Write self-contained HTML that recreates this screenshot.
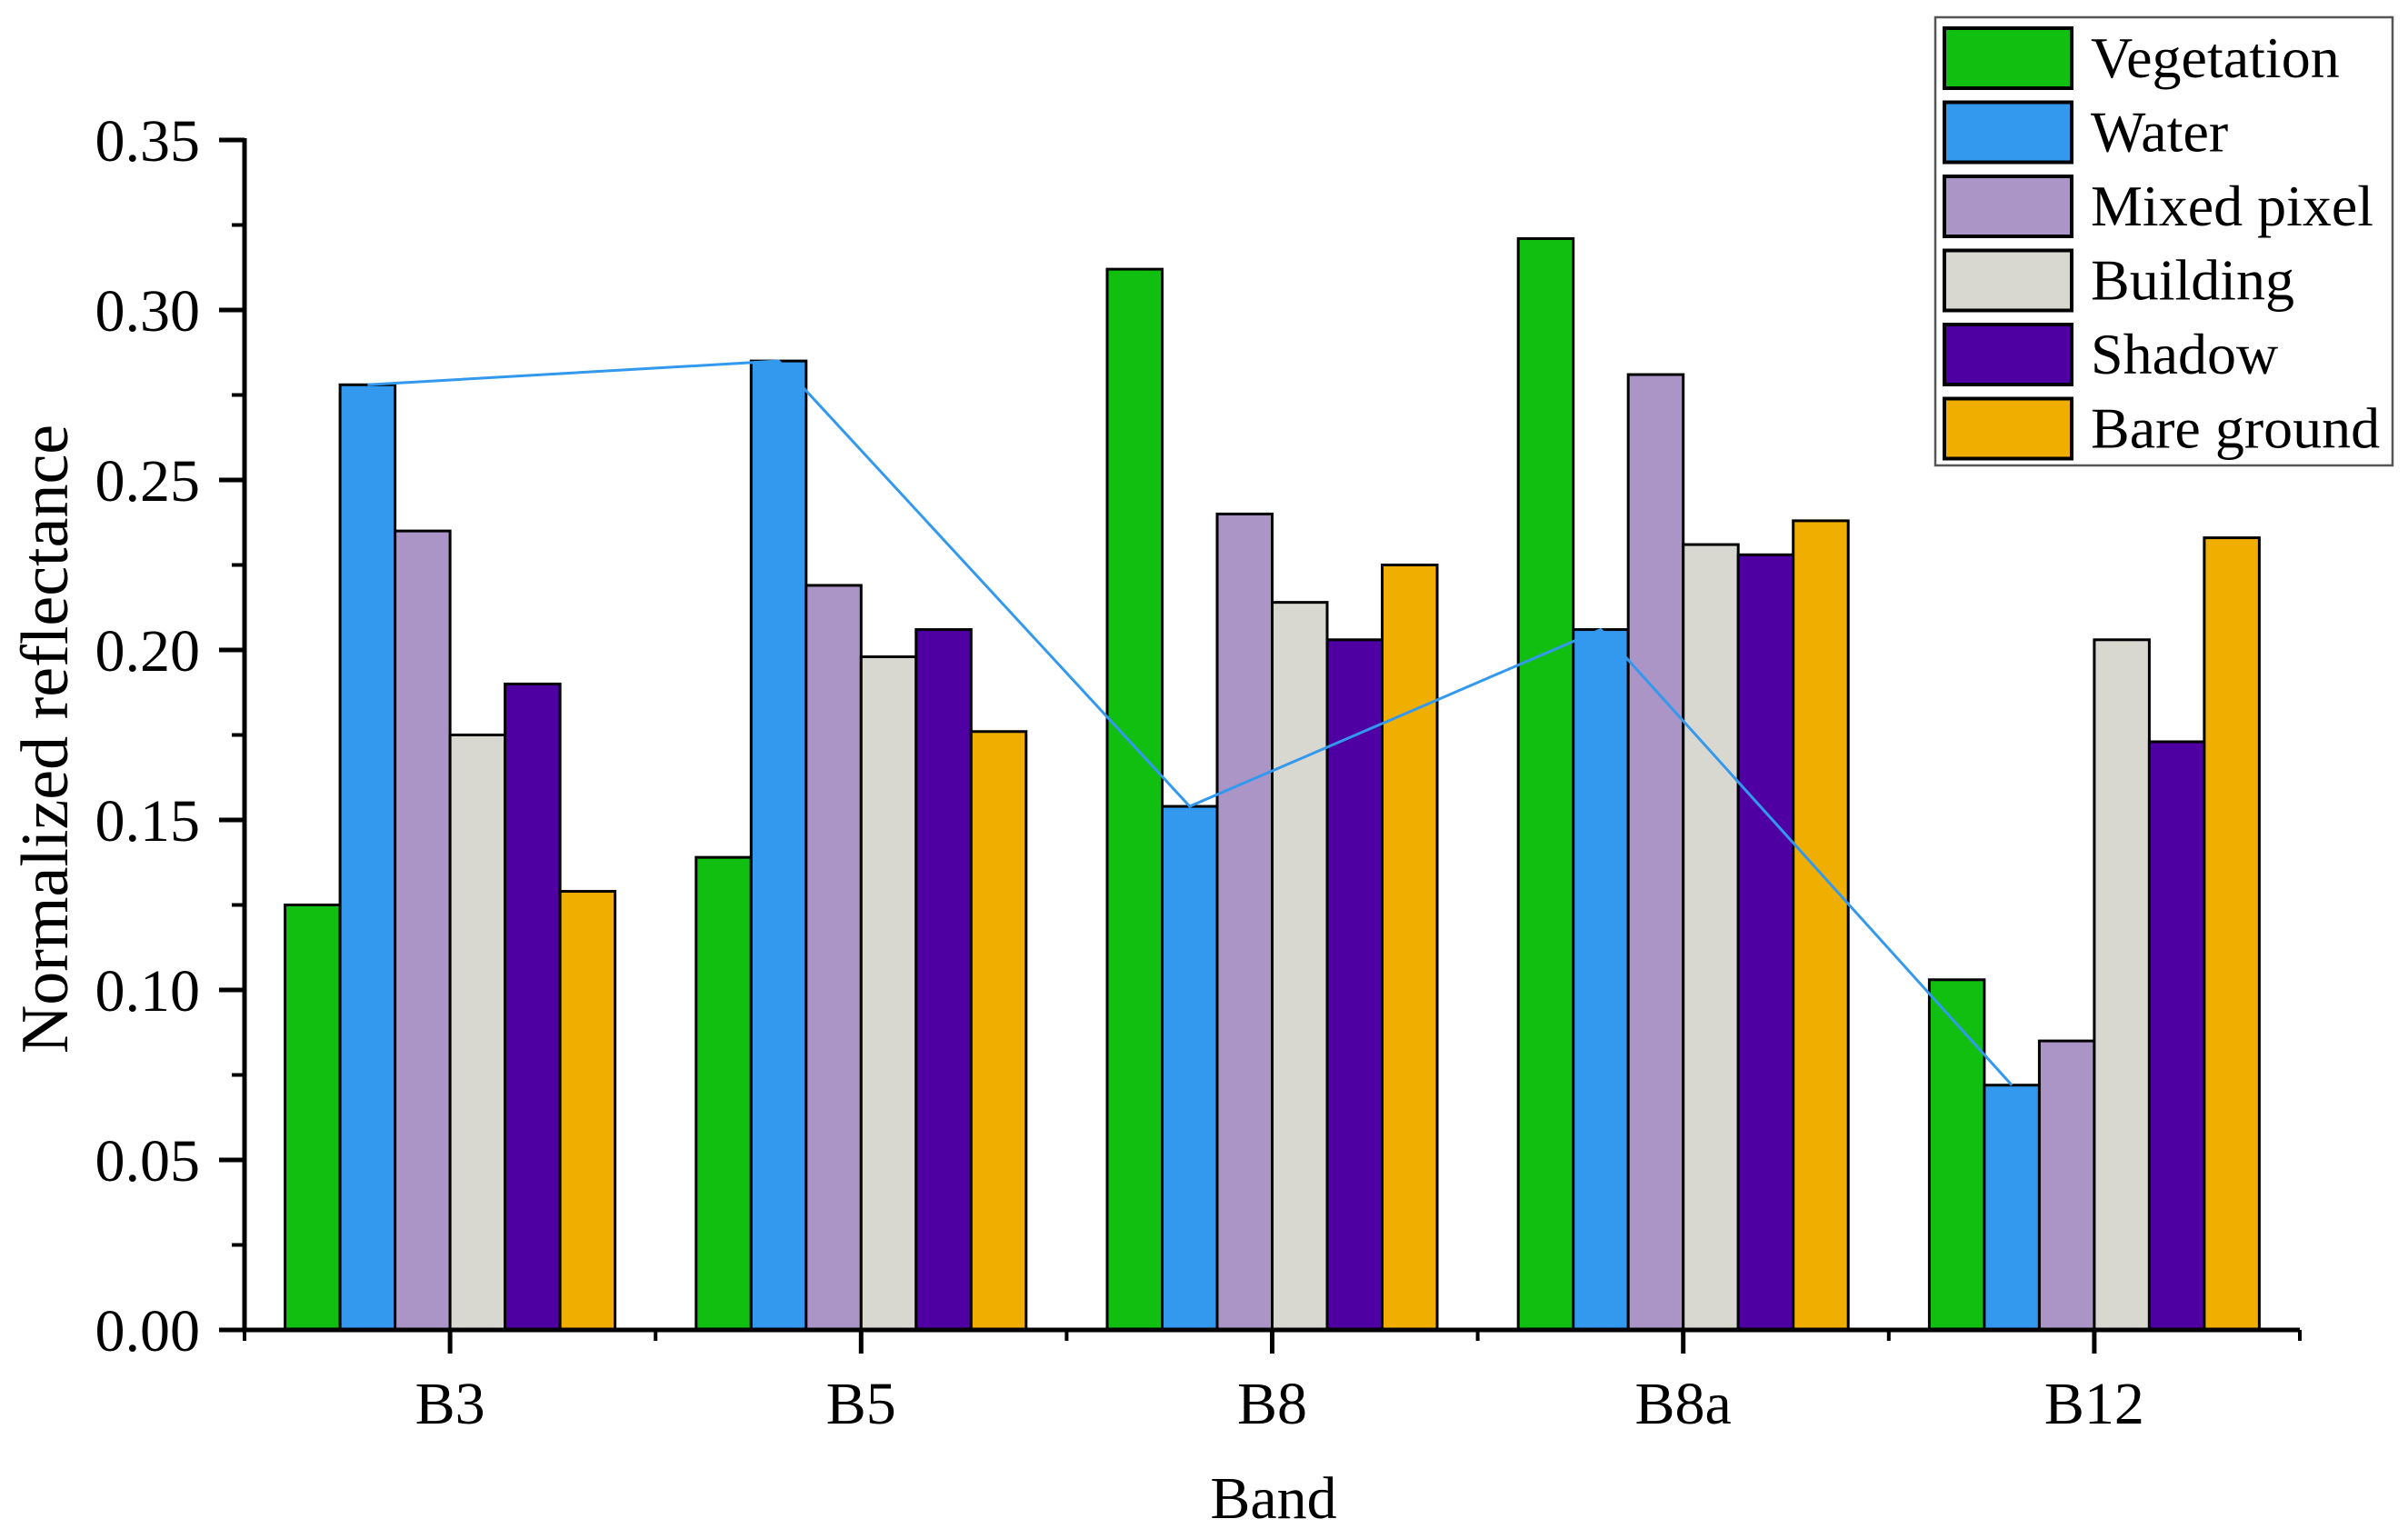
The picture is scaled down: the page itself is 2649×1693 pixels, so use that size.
<!DOCTYPE html>
<html><head><meta charset="utf-8"><style>
html,body{margin:0;padding:0;background:#fff;}
svg{display:block;font-family:"Liberation Serif",serif;}
</style></head><body>
<svg id="chart" width="2649" height="1693" viewBox="0 0 2649 1693" xmlns="http://www.w3.org/2000/svg">
<g id="bars"></g>
<g id="axes"></g>
<text x="0" y="0" transform="translate(74,813) rotate(-90)" text-anchor="middle" font-size="74">Normalized reflectance</text>
<text x="1401" y="1670" text-anchor="middle" font-size="66">Band</text>
<g id="legend"></g>
</svg>
<script>
const categories = ["B3","B5","B8","B8a","B12"];
const seriesNames = ["Vegetation","Water","Mixed pixel","Building","Shadow","Bare ground"];
const vegetation = [0.125,0.139,0.312,0.321,0.103];
const water = [0.278,0.285,0.154,0.206,0.072];
const mixedPixel = [0.235,0.219,0.240,0.281,0.085];
const building = [0.175,0.198,0.214,0.231,0.203];
const shadow = [0.190,0.206,0.203,0.228,0.173];
const bareGround = [0.129,0.176,0.225,0.238,0.233];
const yTicks = [0,0.05,0.10,0.15,0.20,0.25,0.30,0.35];
const yTickLabels = ["0.00","0.05","0.10","0.15","0.20","0.25","0.30","0.35"];

const series = [vegetation, water, mixedPixel, building, shadow, bareGround];
const colors = ["#11bf11","#3399ee","#ab95c7","#d8d8d0","#4f00a3","#f0ae00"];
const NS = "http://www.w3.org/2000/svg";
const X0 = 269, X1 = 2530, Y0 = 1463, YMAX = 0.35, YTOP = 154;
const bandW = (X1 - X0) / categories.length;
const barW = 60.5;
function xc(i){ return X0 + bandW * (i + 0.5); }
function y(v){ return Y0 - v / YMAX * (Y0 - YTOP); }
function mk(tag, attrs, parent){ const e = document.createElementNS(NS, tag); for (const k in attrs) e.setAttribute(k, attrs[k]); parent.appendChild(e); return e; }

const gb = document.getElementById("bars");
series.forEach((s, si) => {
  s.forEach((v, ci) => {
    const bx = xc(ci) + (si - 3) * barW;
    const r = mk("rect", {x: bx, y: y(v), width: barW, height: Y0 - y(v), fill: colors[si], stroke: "#000", "stroke-width": 3}, gb);
    
    
  });
});
const pts = water.map((v, ci) => (xc(ci) - 2 * barW + barW * 0.5) + "," + y(v)).join(" ");
const wl = mk("polyline", {points: pts, fill: "none", stroke: "#3399ee", "stroke-width": 3}, gb);



const ga = document.getElementById("axes");
mk("line", {x1: X0, y1: YTOP - 2, x2: X0, y2: Y0 + 2, stroke: "#000", "stroke-width": 5}, ga);
mk("line", {x1: 241, y1: Y0, x2: X1, y2: Y0, stroke: "#000", "stroke-width": 5}, ga);
yTicks.forEach((t, i) => {
  mk("line", {x1: 241, y1: y(t), x2: X0, y2: y(t), stroke: "#000", "stroke-width": 5}, ga);
  if (i < yTicks.length - 1) mk("line", {x1: 255, y1: y(t + 0.025), x2: X0, y2: y(t + 0.025), stroke: "#000", "stroke-width": 4}, ga);
  const tx = mk("text", {x: 220, y: y(t) + 23, "text-anchor": "end", "font-size": 66}, ga);
  tx.textContent = yTickLabels[i];
  
  
});
for (let i = 0; i <= categories.length; i++) {
  mk("line", {x1: X0 + bandW * i, y1: Y0, x2: X0 + bandW * i, y2: Y0 + 12, stroke: "#000", "stroke-width": 4}, ga);
}
categories.forEach((c, i) => {
  mk("line", {x1: xc(i), y1: Y0, x2: xc(i), y2: Y0 + 26, stroke: "#000", "stroke-width": 5}, ga);
  const tx = mk("text", {x: xc(i), y: 1566, "text-anchor": "middle", "font-size": 66}, ga);
  tx.textContent = c;
  
  
});

const gl = document.getElementById("legend");
mk("rect", {x: 2129, y: 19, width: 503, height: 493, fill: "#fff", stroke: "#555", "stroke-width": 2.5}, gl);
seriesNames.forEach((n, i) => {
  const yy = 31 + i * 81.5;
  const sw = mk("rect", {x: 2139, y: yy, width: 140, height: 66, fill: colors[i], stroke: "#000", "stroke-width": 4}, gl);
  
  
  const tx = mk("text", {x: 2300, y: yy + 54, "font-size": 64}, gl);
  tx.textContent = n;
  
  
});
</script>
</body></html>
